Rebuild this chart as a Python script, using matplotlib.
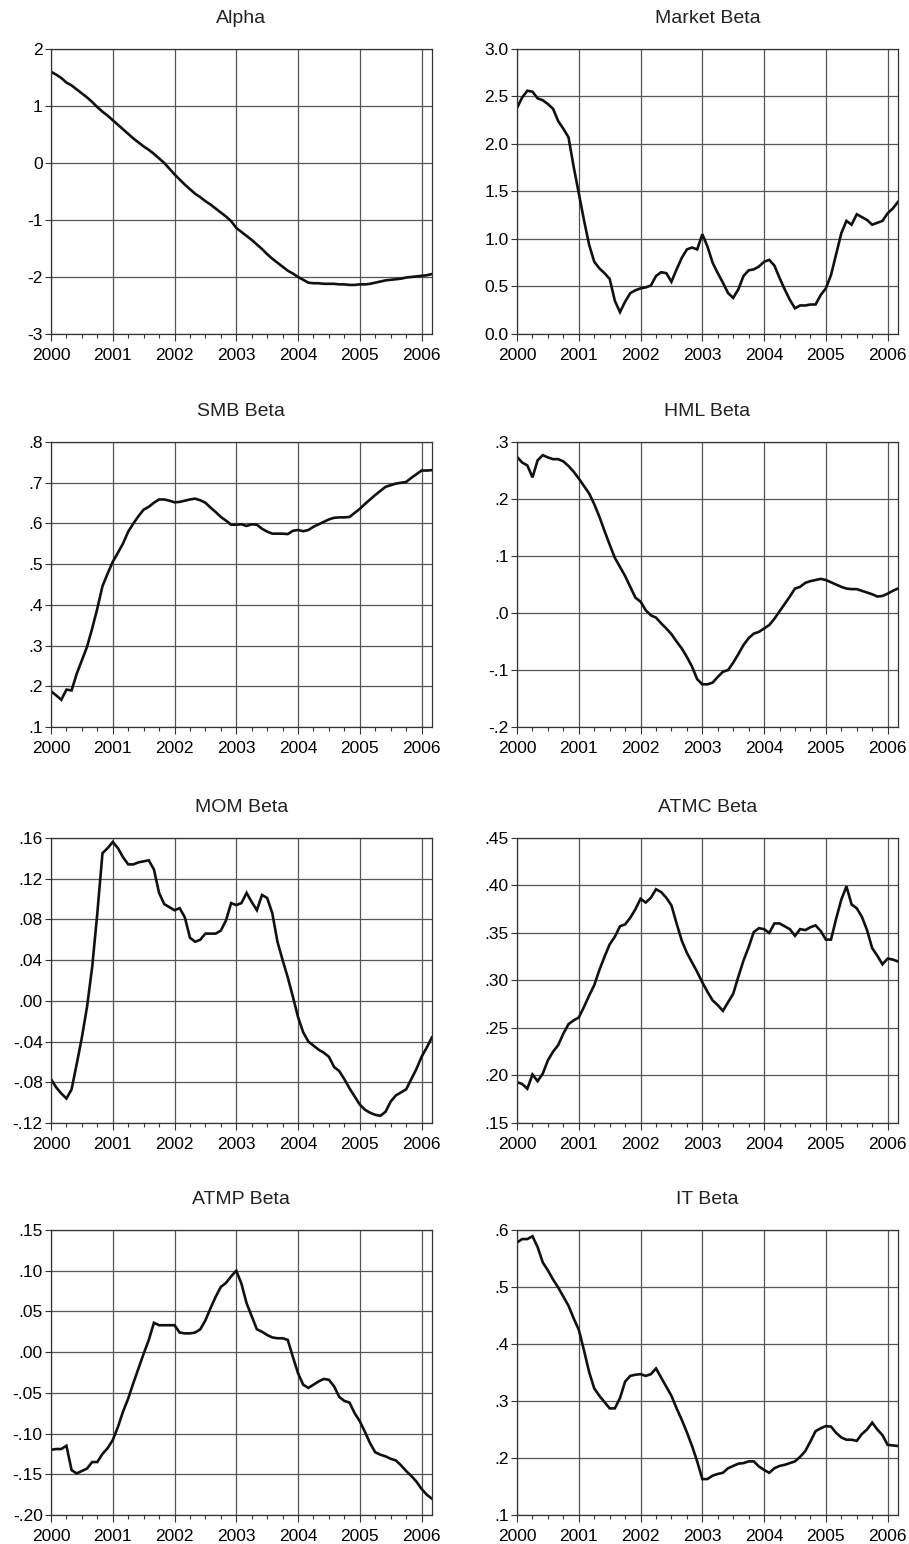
# Rolling factor loadings, monthly Jan 2000 - Mar 2006
import numpy as np
import matplotlib.pyplot as plt
from matplotlib.ticker import FixedLocator

plt.rcParams['font.family'] = ['Liberation Sans', 'DejaVu Sans']

n_months = 75
t = 2000 + np.arange(n_months) / 12.0

alpha = [1.60, 1.55, 1.49, 1.41, 1.36, 1.29, 1.22, 1.15, 1.07, 0.98, 0.90, 0.83,
         0.75, 0.67, 0.59, 0.51, 0.43, 0.36, 0.29, 0.23, 0.16, 0.08, 0.00, -0.10,
         -0.20, -0.29, -0.38, -0.46, -0.54, -0.60, -0.67, -0.73, -0.80, -0.87, -0.94, -1.02,
         -1.14, -1.21, -1.28, -1.35, -1.43, -1.51, -1.60, -1.68, -1.75, -1.82, -1.89, -1.94,
         -2.00, -2.05, -2.10, -2.11, -2.11, -2.12, -2.12, -2.12, -2.13, -2.13, -2.14, -2.14,
         -2.13, -2.13, -2.12, -2.10, -2.08, -2.06, -2.05, -2.04, -2.03, -2.01, -2.00, -1.99,
         -1.98, -1.97, -1.95]

market = [2.38, 2.49, 2.56, 2.55, 2.48, 2.46, 2.42, 2.37, 2.24, 2.16, 2.07, 1.76,
          1.48, 1.20, 0.94, 0.76, 0.69, 0.64, 0.58, 0.35, 0.23, 0.34, 0.43, 0.46,
          0.48, 0.49, 0.51, 0.61, 0.65, 0.64, 0.55, 0.68, 0.80, 0.89, 0.91, 0.89,
          1.05, 0.92, 0.75, 0.64, 0.54, 0.43, 0.38, 0.47, 0.61, 0.67, 0.68, 0.71,
          0.76, 0.78, 0.72, 0.59, 0.47, 0.36, 0.27, 0.30, 0.30, 0.31, 0.31, 0.41,
          0.48, 0.62, 0.84, 1.06, 1.19, 1.15, 1.26, 1.23, 1.20, 1.15, 1.17, 1.19,
          1.27, 1.32, 1.39]

smb = [0.188, 0.178, 0.167, 0.192, 0.190, 0.231, 0.264, 0.297, 0.342, 0.391, 0.446, 0.477,
       0.506, 0.528, 0.551, 0.580, 0.600, 0.618, 0.634, 0.641, 0.651, 0.659, 0.659, 0.656,
       0.652, 0.653, 0.656, 0.659, 0.661, 0.657, 0.651, 0.639, 0.628, 0.616, 0.607, 0.597,
       0.597, 0.598, 0.594, 0.598, 0.597, 0.587, 0.580, 0.575, 0.575, 0.575, 0.574, 0.582,
       0.584, 0.581, 0.584, 0.592, 0.598, 0.604, 0.610, 0.614, 0.615, 0.615, 0.616, 0.626,
       0.636, 0.648, 0.659, 0.670, 0.680, 0.690, 0.694, 0.698, 0.700, 0.702, 0.712, 0.721,
       0.730, 0.730, 0.731]

hml = [0.274, 0.264, 0.259, 0.238, 0.268, 0.277, 0.273, 0.270, 0.270, 0.266, 0.258, 0.248,
       0.236, 0.223, 0.210, 0.191, 0.169, 0.144, 0.120, 0.097, 0.081, 0.065, 0.046, 0.027,
       0.020, 0.005, -0.004, -0.008, -0.018, -0.027, -0.037, -0.050, -0.062, -0.077, -0.094, -0.116,
       -0.125, -0.125, -0.122, -0.112, -0.103, -0.100, -0.087, -0.072, -0.056, -0.044, -0.036, -0.033,
       -0.027, -0.021, -0.010, 0.003, 0.016, 0.029, 0.043, 0.046, 0.053, 0.056, 0.058, 0.060,
       0.058, 0.054, 0.050, 0.046, 0.043, 0.042, 0.042, 0.039, 0.036, 0.033, 0.029, 0.030,
       0.034, 0.039, 0.043]

mom = [-0.077, -0.085, -0.091, -0.096, -0.087, -0.062, -0.036, -0.006, 0.033, 0.086, 0.145, 0.150,
       0.156, 0.150, 0.141, 0.134, 0.134, 0.136, 0.137, 0.138, 0.129, 0.106, 0.095, 0.092,
       0.089, 0.091, 0.082, 0.062, 0.058, 0.060, 0.066, 0.066, 0.066, 0.069, 0.079, 0.096,
       0.094, 0.096, 0.106, 0.097, 0.089, 0.104, 0.101, 0.086, 0.058, 0.040, 0.023, 0.004,
       -0.016, -0.031, -0.040, -0.044, -0.048, -0.051, -0.055, -0.065, -0.069, -0.077, -0.086, -0.094,
       -0.102, -0.107, -0.110, -0.112, -0.113, -0.109, -0.099, -0.093, -0.090, -0.087, -0.077, -0.067,
       -0.055, -0.046, -0.036]

atmc = [0.193, 0.191, 0.186, 0.201, 0.194, 0.202, 0.216, 0.225, 0.232, 0.244, 0.254, 0.258,
        0.261, 0.272, 0.284, 0.295, 0.311, 0.325, 0.338, 0.346, 0.357, 0.359, 0.366, 0.375,
        0.386, 0.382, 0.387, 0.396, 0.393, 0.387, 0.379, 0.360, 0.342, 0.329, 0.319, 0.309,
        0.298, 0.288, 0.279, 0.274, 0.268, 0.277, 0.286, 0.304, 0.321, 0.335, 0.351, 0.355,
        0.354, 0.350, 0.360, 0.360, 0.357, 0.354, 0.347, 0.354, 0.353, 0.356, 0.358, 0.352,
        0.343, 0.343, 0.365, 0.385, 0.399, 0.380, 0.376, 0.367, 0.353, 0.334, 0.326, 0.317,
        0.323, 0.322, 0.320]

atmp = [-0.120, -0.119, -0.119, -0.115, -0.145, -0.149, -0.146, -0.143, -0.135, -0.135, -0.125, -0.118,
        -0.108, -0.092, -0.073, -0.057, -0.038, -0.020, -0.002, 0.015, 0.036, 0.033, 0.033, 0.033,
        0.033, 0.024, 0.023, 0.023, 0.024, 0.028, 0.039, 0.054, 0.068, 0.080, 0.085, 0.093,
        0.100, 0.084, 0.060, 0.044, 0.028, 0.025, 0.021, 0.018, 0.017, 0.017, 0.015, -0.006,
        -0.026, -0.040, -0.044, -0.040, -0.036, -0.033, -0.034, -0.042, -0.055, -0.060, -0.062, -0.075,
        -0.085, -0.098, -0.112, -0.123, -0.126, -0.128, -0.131, -0.133, -0.139, -0.146, -0.152, -0.159,
        -0.168, -0.175, -0.180]

it = [0.578, 0.584, 0.584, 0.589, 0.570, 0.543, 0.529, 0.513, 0.499, 0.483, 0.467, 0.445,
      0.425, 0.389, 0.351, 0.322, 0.309, 0.298, 0.287, 0.287, 0.305, 0.334, 0.344, 0.346,
      0.347, 0.344, 0.347, 0.357, 0.341, 0.325, 0.309, 0.287, 0.267, 0.245, 0.221, 0.194,
      0.163, 0.163, 0.169, 0.172, 0.174, 0.182, 0.186, 0.190, 0.191, 0.194, 0.194, 0.185,
      0.179, 0.174, 0.182, 0.186, 0.188, 0.191, 0.194, 0.202, 0.212, 0.229, 0.247, 0.252,
      0.256, 0.255, 0.244, 0.236, 0.232, 0.232, 0.230, 0.242, 0.250, 0.262, 0.250, 0.240,
      0.223, 0.222, 0.221]

titles = ['Alpha', 'Market Beta', 'SMB Beta', 'HML Beta',
          'MOM Beta', 'ATMC Beta', 'ATMP Beta', 'IT Beta']
series = [alpha, market, smb, hml, mom, atmc, atmp, it]

yticks = [[-3, -2, -1, 0, 1, 2],
          [0.0, 0.5, 1.0, 1.5, 2.0, 2.5, 3.0],
          [0.1, 0.2, 0.3, 0.4, 0.5, 0.6, 0.7, 0.8],
          [-0.2, -0.1, 0.0, 0.1, 0.2, 0.3],
          [-0.12, -0.08, -0.04, 0.00, 0.04, 0.08, 0.12, 0.16],
          [0.15, 0.20, 0.25, 0.30, 0.35, 0.40, 0.45],
          [-0.20, -0.15, -0.10, -0.05, 0.00, 0.05, 0.10, 0.15],
          [0.1, 0.2, 0.3, 0.4, 0.5, 0.6]]
ylabels = [['-3', '-2', '-1', '0', '1', '2'],
           ['0.0', '0.5', '1.0', '1.5', '2.0', '2.5', '3.0'],
           ['.1', '.2', '.3', '.4', '.5', '.6', '.7', '.8'],
           ['-.2', '-.1', '.0', '.1', '.2', '.3'],
           ['-.12', '-.08', '-.04', '.00', '.04', '.08', '.12', '.16'],
           ['.15', '.20', '.25', '.30', '.35', '.40', '.45'],
           ['-.20', '-.15', '-.10', '-.05', '.00', '.05', '.10', '.15'],
           ['.1', '.2', '.3', '.4', '.5', '.6']]

year_ticks = list(range(2000, 2007))

fig = plt.figure(figsize=(9.09, 15.44), dpi=100)

lefts = [0.0561, 0.5688]
bottoms = [0.7837, 0.5291, 0.2727, 0.0188]
w, h = 0.419, 0.1846

for i in range(8):
    r, c = divmod(i, 2)
    ax = fig.add_axes([lefts[c], bottoms[r], w, h])
    ax.plot(t, series[i], color='#111111', lw=1.9, solid_joinstyle='miter')
    ax.set_xlim(2000, 2000 + (n_months - 1) / 12.0)
    ax.set_ylim(yticks[i][0], yticks[i][-1])
    ax.set_xticks(year_ticks)
    ax.set_xticklabels([str(y) for y in year_ticks])
    ax.xaxis.set_minor_locator(FixedLocator(2000 + np.arange(0, 26) / 4.0))
    ax.set_yticks(yticks[i])
    ax.set_yticklabels(ylabels[i])
    ax.grid(True, which='major', color='#555555', lw=0.9)
    ax.tick_params(axis='both', which='major', labelsize=12.5, direction='out',
                   length=4, width=0.8, color='#333333', pad=2)
    ax.tick_params(axis='x', which='major', length=5, pad=5)
    ax.tick_params(axis='x', which='minor', length=3, width=0.8, color='#333333')
    for s in ax.spines.values():
        s.set_color('#333333')
        s.set_linewidth(0.9)
    ax.set_title(titles[i], fontsize=14, pad=19, color='#222222')

plt.savefig('out.png', dpi=100)
